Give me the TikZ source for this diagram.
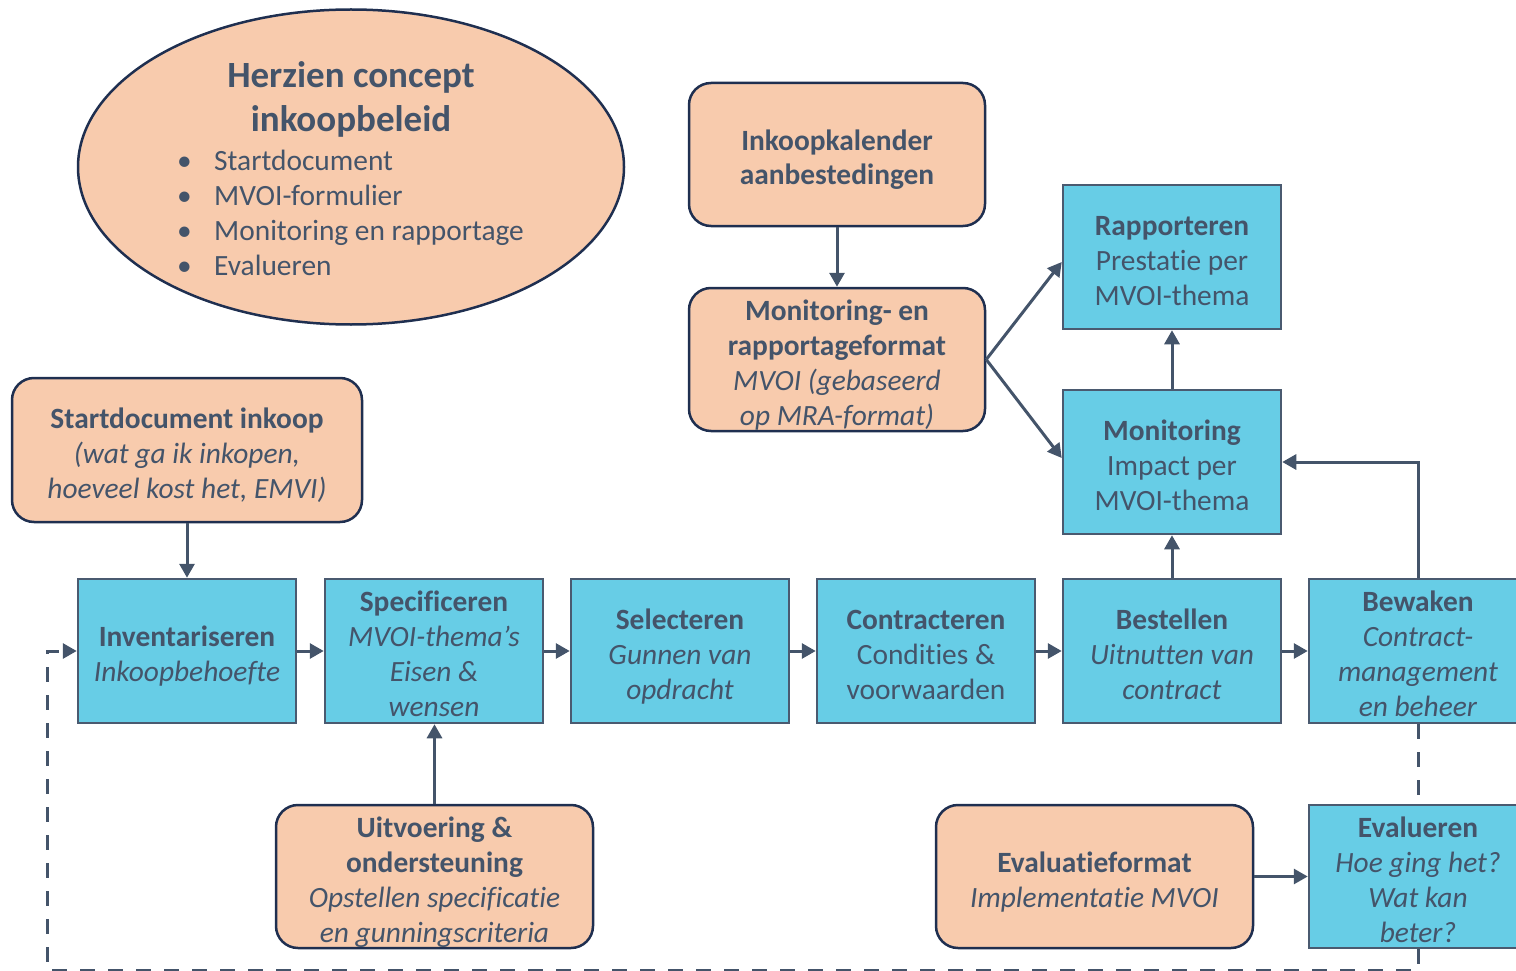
\documentclass[tikz,border=0pt]{standalone}
\usepackage{fontspec}
\setmainfont{Carlito}[Ligatures={NoCommon}]
\usetikzlibrary{arrows.meta,shapes.geometric}
\definecolor{txt}{HTML}{44546A}
\definecolor{org}{HTML}{F8CBAD}
\definecolor{orgb}{HTML}{1F2F50}
\definecolor{blu}{HTML}{67CDE6}
\definecolor{blub}{HTML}{4A5A70}
\definecolor{arr}{HTML}{44546A}
\newcommand\myts{\rule{0pt}{32pt}}
\newcommand\mybs{\rule[-6pt]{0pt}{0pt}}
\begin{document}
\begin{tikzpicture}[x=1pt,y=-1pt,
 every node/.style={text=txt, font=\fontsize{29.4}{35}\selectfont, align=center, inner sep=0pt},
 bluebox/.style={draw=blub, fill=blu, line width=2.5pt, minimum width=218pt, minimum height=144pt},
 orgbox/.style={draw=orgb, fill=org, line width=2.5pt, rounded corners=22pt},
 ellbox/.style={draw=orgb, fill=org, line width=2.5pt, ellipse},
 conn/.style={draw=arr, line width=3pt, -{Triangle[length=14pt,width=15pt]}},
 dline/.style={draw=arr, line width=3pt, dash pattern=on 15pt off 13pt},
 dconn/.style={conn, dash pattern=on 15pt off 13pt}]
\useasboundingbox (0,0) rectangle (1516,971);
\clip (0,0) rectangle (1516,971);

% ellipse
\node[ellbox, minimum width=546pt, minimum height=315pt] (ell) at (351,167) {};
\node[font=\fontsize{37}{44}\selectfont\bfseries] (ttl) at (351,99) {Herzien concept\\inkoopbeleid};
\node[anchor=west, align=left] (lst) at (177,213) {\makebox[37pt][l]{•}Startdocument\\\makebox[37pt][l]{•}MVOI-formulier\\\makebox[37pt][l]{•}Monitoring en rapportage\\\makebox[37pt][l]{•}Evalueren};

% orange boxes
\node[orgbox, minimum width=296pt, minimum height=143pt] (kal) at (837,154.5) {\myts\textbf{Inkoopkalender}\\\textbf{aanbestedingen}\mybs};
\node[orgbox, minimum width=296pt, minimum height=143pt] (fmt) at (837,359.5) {\myts\textbf{Monitoring- en}\\\textbf{rapportageformat}\\\textit{MVOI (gebaseerd}\\\textit{op MRA-format)}\mybs};
\node[orgbox, minimum width=350pt, minimum height=144pt] (start) at (187,450) {\myts\textbf{Startdocument inkoop}\\\textit{(wat ga ik inkopen,}\\\textit{hoeveel kost het, EMVI)}\mybs};
\node[orgbox, minimum width=317pt, minimum height=143pt] (uitv) at (434.5,876.5) {\myts\textbf{Uitvoering \&}\\\textbf{ondersteuning}\\\textit{Opstellen specificatie}\\\textit{en gunningscriteria}\mybs};
\node[orgbox, minimum width=317pt, minimum height=143pt] (evf) at (1094.5,876.5) {\myts\textbf{Evaluatieformat}\\\textit{Implementatie MVOI}\mybs};

% blue boxes
\node[bluebox] (inv) at (187,651) {\myts\textbf{Inventariseren}\\\textit{Inkoopbehoefte}\mybs};
\node[bluebox] (spec) at (434,651) {\myts\textbf{Specificeren}\\\textit{MVOI-thema’s}\\\textit{Eisen \&}\\\textit{wensen}\mybs};
\node[bluebox] (sel) at (680,651) {\myts\textbf{Selecteren}\\\textit{Gunnen van}\\\textit{opdracht}\mybs};
\node[bluebox] (con) at (926,651) {\myts\textbf{Contracteren}\\Condities \&\\voorwaarden\mybs};
\node[bluebox] (bes) at (1172,651) {\myts\textbf{Bestellen}\\\textit{Uitnutten van}\\\textit{contract}\mybs};
\node[bluebox] (bew) at (1418,651) {\myts\textbf{Bewaken}\\\textit{Contract-}\\\textit{management}\\\textit{en beheer}\mybs};
\node[bluebox] (mon) at (1172,462) {\myts\textbf{Monitoring}\\Impact per\\MVOI-thema\mybs};
\node[bluebox] (rap) at (1172,257) {\myts\textbf{Rapporteren}\\Prestatie per\\MVOI-thema\mybs};
\node[bluebox, minimum height=143pt] (evl) at (1418,876.5) {\myts\textbf{Evalueren}\\\textit{Hoe ging het?}\\\textit{Wat kan}\\\textit{beter?}\mybs};

% connectors
\draw[conn] (kal) -- (fmt);
\draw[conn] (fmt.east) -- ([yshift=-5pt]rap.west);
\draw[conn] (fmt.east) -- ([yshift=4pt]mon.west);
\draw[conn] (start) -- (inv);
\draw[conn] (inv) -- (spec);
\draw[conn] (spec) -- (sel);
\draw[conn] (sel) -- (con);
\draw[conn] (con) -- (bes);
\draw[conn] (bes) -- (bew);
\draw[conn] (uitv.north) -- (uitv.north |- spec.south);
\draw[conn] (bes) -- (mon);
\draw[conn] (mon) -- (rap);
\draw[conn] (bew.north) |- (mon.east);
\draw[conn] (evf) -- (evl);
\draw[dline] (bew) -- (evl);
\coordinate (dl) at (47,970);
\coordinate (ul) at (47,651);
\draw[dconn] (evl.south) |- (dl) -- (ul) -- (inv.west);
\end{tikzpicture}
\end{document}
